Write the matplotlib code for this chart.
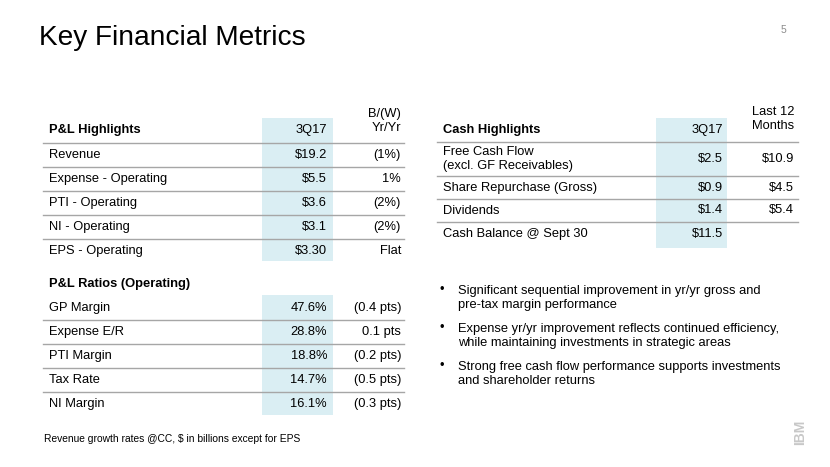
import matplotlib.pyplot as plt
from matplotlib.patches import Rectangle

plt.rcParams['font.family'] = ['Liberation Sans', 'DejaVu Sans']

# P&L highlights table
pl_labels = ["Revenue", "Expense - Operating", "PTI - Operating", "NI - Operating", "EPS - Operating"]
pl_3q17 = ["$19.2", "$5.5", "$3.6", "$3.1", "$3.30"]
pl_yy = ["(1%)", "1%", "(2%)", "(2%)", "Flat"]

# P&L ratios table
ratio_labels = ["GP Margin", "Expense E/R", "PTI Margin", "Tax Rate", "NI Margin"]
ratio_3q17 = ["47.6%", "28.8%", "18.8%", "14.7%", "16.1%"]
ratio_yy = ["(0.4 pts)", "0.1 pts", "(0.2 pts)", "(0.5 pts)", "(0.3 pts)"]

# Cash highlights table
cash_labels = ["Free Cash Flow\n(excl. GF Receivables)", "Share Repurchase (Gross)",
               "Dividends", "Cash Balance @ Sept 30"]
cash_3q17 = ["$2.5", "$0.9", "$1.4", "$11.5"]
cash_ltm = ["$10.9", "$4.5", "$5.4", ""]

bullets = [
    "Significant sequential improvement in yr/yr gross and\npre-tax margin performance",
    "Expense yr/yr improvement reflects continued efficiency,\nwhile maintaining investments in strategic areas",
    "Strong free cash flow performance supports investments\nand shareholder returns",
]

W, H = 830, 467
shade = '#DAEEF3'
rule = '#A6A6A6'
fs = 9.3

fig = plt.figure(figsize=(W / 100, H / 100), dpi=100)
ax = fig.add_axes([0, 0, 1, 1])
ax.set_xlim(0, W)
ax.set_ylim(H, 0)
ax.axis('off')

ax.text(39, 38, "Key Financial Metrics", fontsize=20.2, va='center', ha='left', color='black')
ax.text(783, 30, "5", fontsize=7.5, va='center', ha='center', color='#8C8C8C')


def draw_table(x0, x1, col1, col2, first_y, heights, labels, v1, v2):
    y = first_y
    for i, (lab, a, b) in enumerate(zip(labels, v1, v2)):
        h = heights[i]
        yc = y + h / 2
        ax.text(x0 + 6, yc, lab, fontsize=fs, va='center', ha='left', linespacing=1.2)
        ax.text(col1, yc, a, fontsize=fs, va='center', ha='right')
        ax.text(col2, yc, b, fontsize=fs, va='center', ha='right')
        if i < len(labels) - 1:
            ax.plot([x0, x1], [y + h, y + h], color=rule, lw=1)
        y += h


# left: P&L highlights
ax.add_patch(Rectangle((262, 118), 71, 143, color=shade, lw=0))
ax.text(49, 130, "P&L Highlights", fontsize=fs, fontweight='bold', va='center')
ax.text(327, 130, "3Q17", fontsize=fs, va='center', ha='right')
ax.text(401, 121, "B/(W)\nYr/Yr", fontsize=fs, va='center', ha='right', ma='right', linespacing=1.2)
ax.plot([43, 404], [143, 143], color=rule, lw=1)
draw_table(43, 404, 327, 401, 143, [24] * 5, pl_labels, pl_3q17, pl_yy)

# left: P&L ratios
ax.add_patch(Rectangle((262, 295), 71, 120, color=shade, lw=0))
ax.text(49, 284, "P&L Ratios (Operating)", fontsize=fs, fontweight='bold', va='center')
draw_table(43, 404, 327, 401, 296, [24] * 5, ratio_labels, ratio_3q17, ratio_yy)

ax.text(44, 439, "Revenue growth rates @CC, $ in billions except for EPS", fontsize=7.4, va='center')

# right: cash highlights
ax.add_patch(Rectangle((656, 118), 71, 130, color=shade, lw=0))
ax.text(443, 130, "Cash Highlights", fontsize=fs, fontweight='bold', va='center')
ax.text(723, 130, "3Q17", fontsize=fs, va='center', ha='right')
ax.text(794, 119, "Last 12\nMonths", fontsize=fs, va='center', ha='right', ma='right', linespacing=1.2)
ax.plot([437, 798], [142, 142], color=rule, lw=1)
draw_table(437, 798, 723, 794, 142, [34, 23, 23, 24], cash_labels, cash_3q17, cash_ltm)

# bullets
by = 298
for b in bullets:
    ax.text(439, by - 7.5, "\u2022", fontsize=fs, va='center', ha='left')
    ax.text(458, by, b, fontsize=fs, va='center', ha='left', ma='left', linespacing=1.2)
    by += 38

# IBM mark
ax.text(800, 432, "IBM", fontsize=10, fontweight='bold', rotation=90, color='#C8C8C8',
        va='center', ha='center')

fig.savefig('out.png', dpi=100)
